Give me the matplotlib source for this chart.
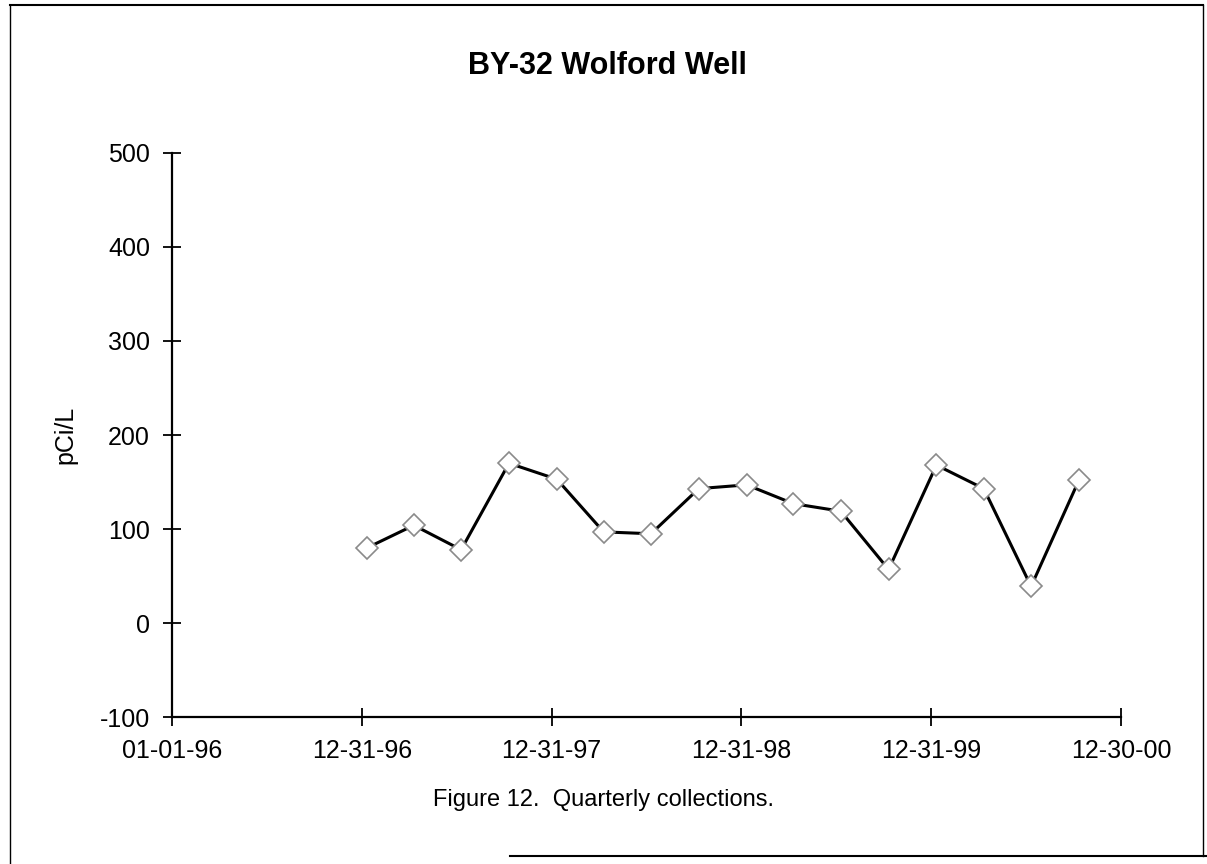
import numpy as np
import pandas as pd
import matplotlib; matplotlib.use("Agg")
import matplotlib.pyplot as plt
import matplotlib.dates as mdates
from matplotlib.lines import Line2D

plt.rcParams["font.family"] = ["Liberation Sans", "DejaVu Sans"]
plt.rcParams["axes.unicode_minus"] = False

# ── data ──────────────────────────────────────────────────────────────────────
TITLE   = "BY-32 Wolford Well"
CAPTION = "Figure 12.  Quarterly collections."
YLABEL  = "pCi/L"

sample_dates = ["1997-01-10", "1997-04-10", "1997-07-10", "1997-10-10",
                "1998-01-10", "1998-04-10", "1998-07-10", "1998-10-10",
                "1999-01-10", "1999-04-10", "1999-07-10", "1999-10-10",
                "2000-01-10", "2000-04-10", "2000-07-10", "2000-10-10"]
pci_per_l = [80, 104, 78, 170, 153, 97, 95, 143,
             147, 127, 119, 57, 168, 143, 39, 152]

x_ticks = ["1996-01-01", "1996-12-31", "1997-12-31",
           "1998-12-31", "1999-12-31", "2000-12-30"]
y_ticks = [-100, 0, 100, 200, 300, 400, 500]

dates = pd.to_datetime(sample_dates)
xt = pd.to_datetime(x_ticks)

fig = plt.figure(figsize=(12.07, 8.64), dpi=100)
ax = fig.add_axes([0.1425, 0.170, 0.7863, 0.653])

ax.plot(dates, pci_per_l, color="black", lw=2.2, marker="D", ms=11,
        mfc="white", mec="#8a8a8a", mew=1.2, zorder=3)

ax.set_xlim(xt[0], xt[-1])
ax.set_ylim(-100, 500)
ax.set_xticks(xt)
ax.xaxis.set_major_formatter(mdates.DateFormatter("%m-%d-%y"))
ax.set_yticks(y_ticks)
ax.tick_params(direction="inout", length=13.5, width=1.3, labelsize=18, pad=9)

for s in ("top", "right"):
    ax.spines[s].set_visible(False)
for s in ("left", "bottom"):
    ax.spines[s].set_linewidth(1.6)

ax.set_ylabel(YLABEL, fontsize=18, labelpad=16)

fig.text(0.503, 1 - 66 / 864, TITLE, ha="center", va="center",
         fontsize=22, fontweight="bold")
fig.text(0.5, 1 - 800 / 864, CAPTION, ha="center", va="center", fontsize=17)

# scanned page frame (bottom edge only partly visible in the scan)
fig.add_artist(Line2D([10 / 1207, 10 / 1207], [0, 1 - 5 / 864],
                      transform=fig.transFigure, color="black", lw=1))
fig.add_artist(Line2D([10 / 1207, 1203 / 1207], [1 - 5 / 864, 1 - 5 / 864],
                      transform=fig.transFigure, color="black", lw=1.5))
fig.add_artist(Line2D([1203 / 1207, 1203 / 1207], [1 - 5 / 864, 1 - 856 / 864],
                      transform=fig.transFigure, color="black", lw=1))
fig.add_artist(Line2D([510 / 1207, 1207 / 1207], [1 - 856 / 864, 1 - 856 / 864],
                      transform=fig.transFigure, color="black", lw=1.5))

fig.savefig("out.png", dpi=100)
